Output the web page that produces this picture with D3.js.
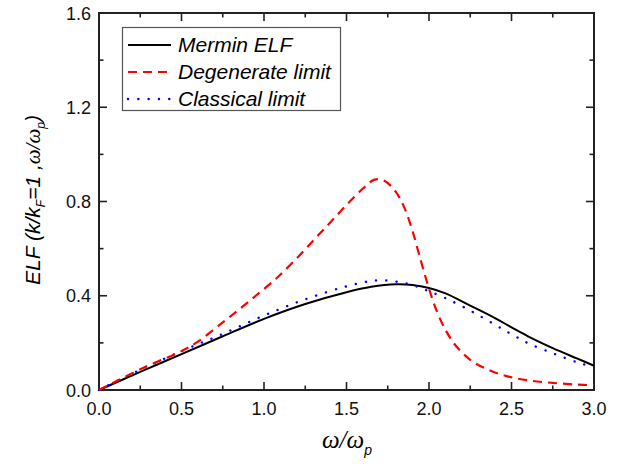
<!DOCTYPE html>
<html><head><meta charset="utf-8">
<script src="https://cdn.jsdelivr.net/npm/d3@7"></script>
<style>body{margin:0;background:#fff}svg{display:block}</style>
</head><body>
<script>
// ---- data ----
const merminX = [0,0.25,0.5,0.75,1.0,1.25,1.5,1.65,1.8,1.9,2.0,2.1,2.25,2.4,2.5,2.6,2.75,2.9,3.0];
const merminY = [0,0.077,0.152,0.228,0.302,0.365,0.415,0.438,0.449,0.446,0.433,0.41,0.358,0.305,0.266,0.228,0.178,0.133,0.103];
const classicalX = [0,0.25,0.5,0.75,1.0,1.25,1.5,1.68,1.8,1.9,2.0,2.1,2.25,2.4,2.5,2.6,2.75,2.9,3.0];
const classicalY = [0,0.086,0.165,0.238,0.316,0.385,0.44,0.465,0.46,0.445,0.419,0.39,0.337,0.277,0.237,0.199,0.156,0.117,0.097];
const degenerateX = [0,0.25,0.5,0.6,0.75,0.85,0.95,1.05,1.1,1.2,1.3,1.4,1.5,1.6,1.67,1.73,1.8,1.85,1.9,1.95,2.0,2.05,2.1,2.16,2.25,2.35,2.47,2.6,2.75,2.9,3.0];
const degenerateY = [0,0.088,0.165,0.205,0.287,0.342,0.4,0.458,0.49,0.56,0.635,0.71,0.785,0.855,0.893,0.888,0.84,0.775,0.675,0.55,0.43,0.33,0.255,0.19,0.128,0.089,0.059,0.041,0.03,0.023,0.02];
const xTicks = [0,0.5,1.0,1.5,2.0,2.5,3.0];
const yTicks = [0,0.4,0.8,1.2,1.6];
const seriesNames = ["Mermin ELF","Degenerate limit","Classical limit"];

// ---- layout ----
const W=644,H=466;
const m={l:99,r:50,t:13,b:76};
const svg=d3.select("body").append("svg").attr("width",W).attr("height",H);
const x=d3.scaleLinear().domain([0,3]).range([m.l,W-m.r]);
const y=d3.scaleLinear().domain([0,1.6]).range([H-m.b,m.t]);
const axCol="#222";
const tickFont="18px 'Liberation Sans', Arial, sans-serif";

// frame
svg.append("rect").attr("x",x(0)).attr("y",y(1.6)).attr("width",x(3)-x(0)).attr("height",y(0)-y(1.6))
  .attr("fill","none").attr("stroke",axCol).attr("stroke-width",2);

const xMinor=d3.range(0,3.001,0.25), yMinor=d3.range(0,1.601,0.2);
const g=svg.append("g").attr("stroke",axCol).attr("stroke-width",1.6);
xMinor.forEach(v=>{
  const major=Math.abs(v*2-Math.round(v*2))<1e-6; const L=major?8:4.5;
  g.append("line").attr("x1",x(v)).attr("x2",x(v)).attr("y1",y(0)).attr("y2",y(0)-L);
  g.append("line").attr("x1",x(v)).attr("x2",x(v)).attr("y1",y(1.6)).attr("y2",y(1.6)+L);
});
yMinor.forEach(v=>{
  const major=Math.abs(v/0.4-Math.round(v/0.4))<1e-6; const L=major?8:4.5;
  g.append("line").attr("y1",y(v)).attr("y2",y(v)).attr("x1",x(0)).attr("x2",x(0)+L);
  g.append("line").attr("y1",y(v)).attr("y2",y(v)).attr("x1",x(3)).attr("x2",x(3)-L);
});

// tick labels
svg.append("g").selectAll("text").data(xTicks).join("text")
  .attr("x",d=>x(d)).attr("y",y(0)+25).attr("text-anchor","middle")
  .style("font",tickFont).attr("fill","#111").text(d=>d.toFixed(1));
svg.append("g").selectAll("text").data(yTicks).join("text")
  .attr("x",x(0)-8).attr("y",d=>y(d)+6.5).attr("text-anchor","end")
  .style("font",tickFont).attr("fill","#111").text(d=>d.toFixed(1));

// lines
const line=d3.line().x(d=>x(d[0])).y(d=>y(d[1])).curve(d3.curveCatmullRom.alpha(0.5));
const plot=svg.append("g");
const styles=[
  {c:"#000",w:2,dash:null},
  {c:"#ff0000",w:2.2,dash:"9,6"},
  {c:"#0000ff",w:2.4,dash:"0.1,10.2",cap:"round"}
];
const dataSets=[d3.zip(merminX,merminY),d3.zip(degenerateX,degenerateY),d3.zip(classicalX,classicalY)];
[0,2,1].forEach(i=>{
  const s=styles[i];
  plot.append("path").datum(dataSets[i]).attr("d",line).attr("fill","none")
    .attr("stroke",s.c).attr("stroke-width",s.w)
    .attr("stroke-dasharray",s.dash).attr("stroke-linecap",s.cap||"butt");
});

// legend
const lg=svg.append("g");
lg.append("rect").attr("x",122.5).attr("y",27.5).attr("width",218).attr("height",83)
  .attr("fill","#fff").attr("stroke","#555").attr("stroke-width",1.2);
seriesNames.forEach((n,i)=>{
  const yy=45+i*27, s=styles[i];
  lg.append("line").attr("x1",128).attr("x2",171).attr("y1",yy).attr("y2",yy)
    .attr("stroke",s.c).attr("stroke-width",s.w).attr("stroke-dasharray",s.dash).attr("stroke-linecap",s.cap||"butt");
  lg.append("text").attr("x",178).attr("y",yy+7).style("font","italic 21px 'Liberation Sans', Arial, sans-serif")
    .attr("fill","#000").text(n);
});

// x title
const xt=svg.append("text").attr("x",347).attr("y",448).attr("text-anchor","middle")
  .style("font","italic 25px 'Liberation Serif','Times New Roman',serif").attr("fill","#000");
xt.append("tspan").text("ω/ω");
xt.append("tspan").attr("dy",7).style("font-size","14px").style("font-family","'Liberation Sans',Arial,sans-serif").text("p");

// y title
const yt=svg.append("text").attr("transform","translate(40,200) rotate(-90)").attr("text-anchor","middle")
  .style("font","italic 21px 'Liberation Sans', Arial, sans-serif").attr("fill","#000");
yt.append("tspan").text("ELF (k/k");
yt.append("tspan").attr("dy",5).style("font-size","12px").text("F");
yt.append("tspan").attr("dy",-5).text("=1 ,");
yt.append("tspan").style("font-family","'Liberation Serif',serif").text("ω/ω");
yt.append("tspan").attr("dy",5).style("font-size","12px").text("p");
yt.append("tspan").attr("dy",-5).text(")");
</script>
</body></html>
